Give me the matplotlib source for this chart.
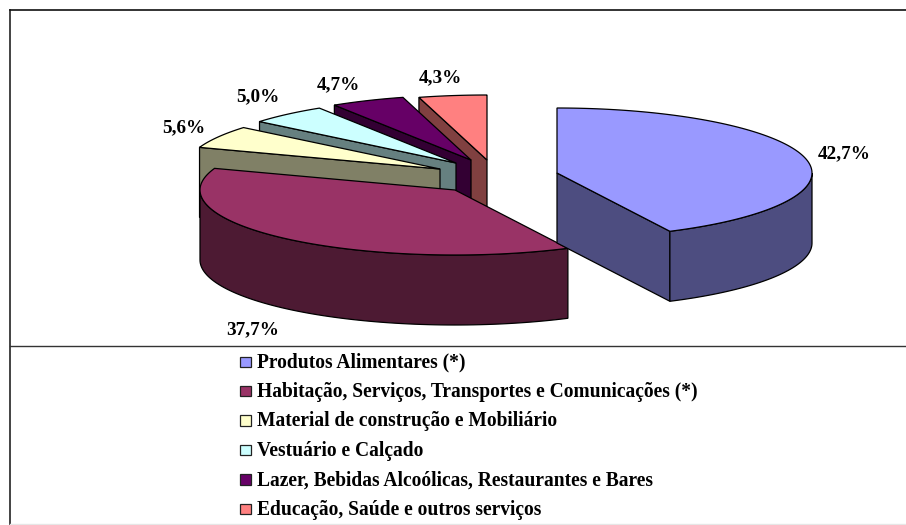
import numpy as np
import matplotlib
matplotlib.use("Agg")
import matplotlib.pyplot as plt
from matplotlib.patches import Polygon, Rectangle
from matplotlib.colors import to_rgb

categories = ["Produtos Alimentares (*)",
              "Habitação, Serviços, Transportes e Comunicações (*)",
              "Material de construção e Mobiliário",
              "Vestuário e Calçado",
              "Lazer, Bebidas Alcoólicas, Restaurantes e Bares",
              "Educação, Saúde e outros serviços"]
values = [42.7, 37.7, 5.6, 5.0, 4.7, 4.3]
value_labels = ["42,7%", "37,7%", "5,6%", "5,0%", "4,7%", "4,3%"]
colors = ["#9999FF", "#993366", "#FFFFCC", "#CCFFFF", "#660066", "#FF8080"]

# layout (pixels of the 906x525 canvas)
apexes = [(557, 173), (455, 190), (440, 169), (456, 163), (471, 160), (487, 160)]
label_pos = [(844, 154), (253, 330), (184, 128), (258, 97), (338, 85), (440, 78)]
A, B, DEPTH = 255, 65, 70
FONT = "Liberation Serif"

fig = plt.figure(figsize=(9.06, 5.25), dpi=100)
ax = fig.add_axes([0, 0, 1, 1])
ax.set_xlim(0, 906)
ax.set_ylim(525, 0)
ax.axis("off")


def rim(c, t):
    t = np.radians(t)
    return np.column_stack([c[0] + A * np.sin(t), c[1] - B * np.cos(t)])


total = sum(values)
edges = np.concatenate([[0], np.cumsum(values)]) / total * 360
LW = 0.9
# back slices first, the largest two last
order = [5, 4, 3, 2, 1, 0]
for z, i in enumerate(order):
    c, t1, t2 = apexes[i], edges[i], edges[i + 1]
    top_c = colors[i]
    side_c = tuple(v * 0.5 for v in to_rgb(top_c))
    zb = 3 + z
    # radial faces that look towards the viewer
    for t, visible in ((t1, np.sin(np.radians(t1)) < -1e-6),
                       (t2, np.sin(np.radians(t2)) > 1e-6)):
        if visible:
            p = rim(c, np.array([t]))[0]
            q = [c, p, (p[0], p[1] + DEPTH), (c[0], c[1] + DEPTH)]
            ax.add_patch(Polygon(q, closed=True, fc=side_c, ec="black", lw=LW, zorder=zb))
    # outer rim, front half only
    lo, hi = max(t1, 90), min(t2, 270)
    if hi > lo:
        arc = rim(c, np.linspace(lo, hi, 80))
        low = arc + [0, DEPTH]
        ax.add_patch(Polygon(np.vstack([arc, low[::-1]]), closed=True,
                             fc=side_c, ec="black", lw=LW, zorder=zb))
    # top face
    arc = rim(c, np.linspace(t1, t2, 120))
    ax.add_patch(Polygon(np.vstack([[c], arc]), closed=True,
                         fc=top_c, ec="black", lw=LW, zorder=zb))

for lab, (x, y) in zip(value_labels, label_pos):
    ax.text(x, y, lab, family=FONT, weight="bold", fontsize=13.8,
            ha="center", va="center", color="black", zorder=20)

# frame and legend separator
ax.plot([10, 10], [10, 525], color="#222222", lw=1.2, zorder=30)
ax.plot([10, 906], [10, 10], color="#111111", lw=1.2, zorder=30)
ax.plot([10, 906], [346, 346], color="#333333", lw=1.0, zorder=30)
ax.plot([10, 906], [524, 524], color="#e6e6e6", lw=1.0, zorder=30)

# legend
row_y = 362.5 + 29.4 * np.arange(len(categories))
for name, col, y in zip(categories, colors, row_y):
    ax.add_patch(Rectangle((240, y - 6), 10.5, 10.5, fc=col, ec="#222222", lw=0.9, zorder=20))
    ax.text(257, y, name, family=FONT, weight="bold", fontsize=14.05,
            ha="left", va="center", color="black", zorder=20)

fig.savefig("out.png", dpi=100)
